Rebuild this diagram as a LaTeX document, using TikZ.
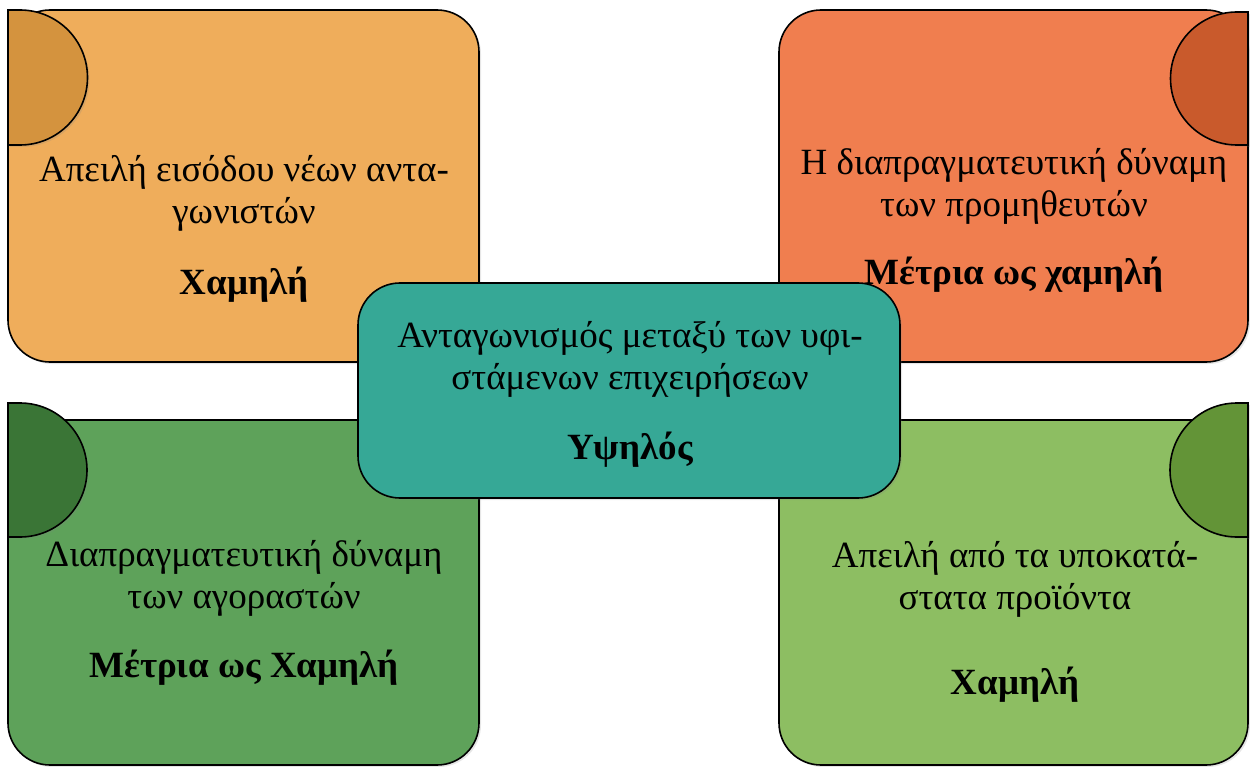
\documentclass[tikz,border=0pt]{standalone}
\usepackage{fontspec}
\setmainfont{Liberation Serif}
\usepackage{tikz}
\usetikzlibrary{shadows}
\definecolor{entryorange}{RGB}{239,173,91}
\definecolor{entrytab}{RGB}{212,147,62}
\definecolor{supplierred}{RGB}{240,126,79}
\definecolor{suppliertab}{RGB}{201,90,44}
\definecolor{rivalteal}{RGB}{54,168,150}
\definecolor{buyergreen}{RGB}{94,162,90}
\definecolor{buyertab}{RGB}{58,117,54}
\definecolor{substgreen}{RGB}{141,190,98}
\definecolor{substtab}{RGB}{99,148,55}

\tikzset{
  card/.style={draw=black, line width=1.6pt, rounded corners=42pt,
    drop shadow={opacity=0.2, shadow xshift=2pt, shadow yshift=-2pt}},
  tab/.style={draw=black, line width=1.6pt,
    drop shadow={opacity=0.2, shadow xshift=2pt, shadow yshift=-2pt}},
  force/.style={font=\fontsize{37}{42}\selectfont, align=center},
  verdict/.style={font=\fontsize{37}{42}\selectfont\bfseries},
}

\begin{document}
\begin{tikzpicture}[x=1pt, y=-1pt]
\useasboundingbox (0,0) rectangle (1250,767);

% Threat of new entrants
\node[card, fill=entryorange, minimum width=471pt, minimum height=352pt] (entry) at (243.5,186) {};
\draw[tab, fill=entrytab] (8,10) -- (20,10) arc[start angle=90, end angle=-90, radius=67.5pt] -- (8,145) -- cycle;
\node[force] (entrytext) at (244,193) {Απειλή εισόδου νέων αντα-\\γωνιστών};
\node[verdict] (entrylevel) at (244,285) {Χαμηλή};

% Bargaining power of suppliers
\node[card, fill=supplierred, minimum width=469pt, minimum height=352pt] (supplier) at (1013.5,186) {};
\draw[tab, fill=suppliertab] (1248,12) -- (1237,12) arc[start angle=90, end angle=270, radius=66.5pt] -- (1248,145) -- cycle;
\node[force] (suppliertext) at (1014,186) {Η διαπραγματευτική δύναμη\\των προμηθευτών};
\node[verdict] (supplierlevel) at (1014,275) {Μέτρια ως χαμηλή};

% Bargaining power of buyers
\node[card, fill=buyergreen, minimum width=471pt, minimum height=345pt] (buyer) at (243.5,592.5) {};
\draw[tab, fill=buyertab] (8,403) -- (20,403) arc[start angle=90, end angle=-90, radius=67pt] -- (8,537) -- cycle;
\node[force] (buyertext) at (244,578) {Διαπραγματευτική δύναμη\\των αγοραστών};
\node[verdict] (buyerlevel) at (244,668) {Μέτρια ως Χαμηλή};

% Threat of substitutes
\node[card, fill=substgreen, minimum width=469pt, minimum height=345pt] (subst) at (1013.5,592.5) {};
\draw[tab, fill=substtab] (1248,403) -- (1237,403) arc[start angle=90, end angle=270, radius=67pt] -- (1248,537) -- cycle;
\node[force] (substtext) at (1015,579) {Απειλή από τα υποκατά-\\στατα προϊόντα};
\node[verdict] (substlevel) at (1015,685) {Χαμηλή};

% Rivalry among existing firms
\node[card, fill=rivalteal, minimum width=542pt, minimum height=215pt] (rival) at (629,390.5) {};
\node[force] (rivaltext) at (630,359) {Ανταγωνισμός μεταξύ των υφι-\\στάμενων επιχειρήσεων};
\node[verdict] (rivallevel) at (630,450) {Υψηλός};
\end{tikzpicture}
\end{document}
